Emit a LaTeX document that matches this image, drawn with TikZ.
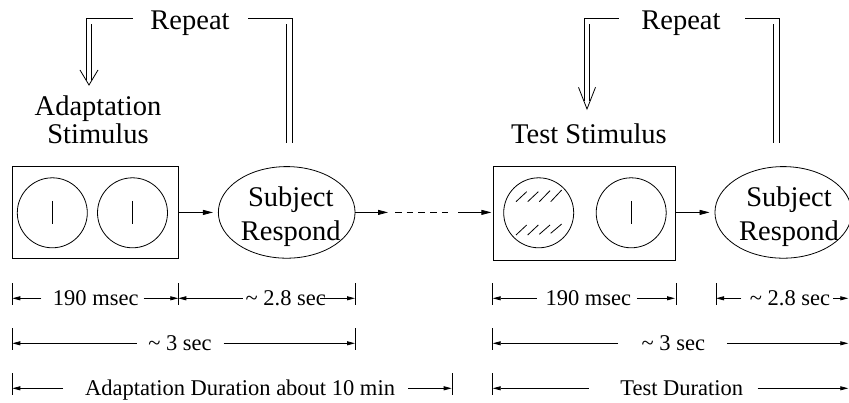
\documentclass[tikz,border=0pt]{standalone}
\usepackage{fontspec}
\setmainfont{Liberation Serif}
\usetikzlibrary{arrows.meta,calc,shapes.geometric}
\begin{document}
\begin{tikzpicture}[x=1pt,y=-1pt,
  every node/.style={inner sep=0pt},
  lw/.style={line width=0.8pt},
  big/.style={font=\fontsize{28.5}{28}\selectfont},
  bigtwo/.style={font=\fontsize{28.5}{33.3}\selectfont, align=center},
  small/.style={font=\fontsize{22.5}{26}\selectfont},
  boxframe/.style={draw, lw, rectangle},
  disc/.style={draw, lw, circle, minimum size=70pt},
  oval/.style={draw, lw, ellipse, minimum width=136.7pt, minimum height=91.6pt},
  conn/.style={lw, -{Triangle[length=10pt,width=5pt]}},
  dbl/.style={line width=0.8pt, double distance=4.9pt},
  dimlab/.style={small, text height=15.2pt, text depth=0pt, anchor=center},
  dimr/.style={lw, -{Triangle[length=8pt,width=4pt]}},
  tickline/.style={lw}
]
\useasboundingbox (0,0) rectangle (849,403);

% ---------- adaptation stimulus ----------
\node[boxframe, minimum width=166pt, minimum height=91.6pt] (box1) at (95.2,212.5) {};
\node[disc] (c1) at (52.3,212.8) {};
\node[disc] (c2) at (132.5,212.8) {};
\draw[lw] ($(c1.center)+(0,-12)$) -- ($(c1.center)+(0,11.3)$);
\draw[lw] ($(c2.center)+(0,-12)$) -- ($(c2.center)+(0,11.3)$);

\node[oval] (resp1) at (286.7,212.4) {};
\node[bigtwo] (resp1t) at (290.8,216.5) {Subject\\Respond};

% ---------- test stimulus ----------
\node[boxframe, minimum width=182.4pt, minimum height=94pt] (box2) at (584.5,213.7) {};
\node[disc] (hc) at (538.7,212.8) {};
\node[disc] (c4) at (631.2,212.8) {};
\draw[lw] ($(c4.center)+(0,-12)$) -- ($(c4.center)+(0,11.3)$);
% hatch
\draw[lw] (516,201.7) -- (526.7,191.7);
\draw[lw] (527.7,201.7) -- (538.3,191.7);
\draw[lw] (539.3,201.7) -- (550,190.7);
\draw[lw] (550.7,201.7) -- (561.7,190);
\draw[lw] (516,235) -- (526.7,225);
\draw[lw] (527.7,235) -- (538.3,225);
\draw[lw] (539.3,234.3) -- (550,225);
\draw[lw] (550.7,233.3) -- (561.7,224);

\node[oval] (resp2) at (783.3,212.4) {};
\node[bigtwo] (resp2t) at (789,216.5) {Subject\\Respond};

% ---------- main flow ----------
\coordinate (d1) at (388,212.4);
\coordinate (d2) at (458,212.4);
\draw[conn, shorten >=5pt] (box1.east) -- (resp1.west);
\draw[conn] (resp1.east) -- (d1);
\draw[lw, dash pattern=on 6.7pt off 5pt, shorten <=7pt, shorten >=9.7pt] (d1) -- (d2);
\draw[conn, shorten >=1.5pt] (d2) -- (d2 -| box2.west);
\draw[conn, shorten >=5pt] (resp2.west -| box2.east) -- (resp2.west);

% ---------- labels above ----------
\node[big, text height=19pt, text depth=1.4pt] (rep1) at (190,21.2) {Repeat};
\node[big, text height=19pt, text depth=1.4pt] (rep2) at (680.9,21.2) {Repeat};
\node[big, align=center] (adapt) at (98,119.3) {Adaptation\\Stimulus};
\node[big, anchor=base] (test) at (589,143.3) {Test Stimulus};

% ---------- repeat loops ----------
\coordinate (a1) at (89,80.2);
\draw[dbl, shorten <=17.7pt] (rep1.west) -| (a1);
\draw[lw] ($(a1)+(-9,-10.2)$) -- ($(a1)+(0,4.8)$) -- ($(a1)+(9,-10.2)$);
\draw[dbl, shorten <=18.7pt, shorten >=23.4pt] (rep1.east) -| ([xshift=3pt]resp1.north);

\coordinate (a2) at (587,101.5);
\draw[dbl, shorten <=22.3pt] (rep2.west) -| (a2);
\draw[lw] ($(a2)+(-8.5,-14.2)$) -- ($(a2)+(0,7.5)$) -- ($(a2)+(8.5,-14.2)$);
\draw[dbl, shorten <=24.6pt, shorten >=23.4pt] (rep2.east) -| ([xshift=-7pt]resp2.north);

% ---------- timing ----------
\coordinate (tL0a) at (12.3,298.3);
\coordinate (tL1a) at (178.3,298.3);
\coordinate (tL2a) at (355,298.3);
\coordinate (tL0b) at (12.3,343.3);
\coordinate (tL2b) at (355,343.3);
\coordinate (tL0c) at (12.3,388.3);
\coordinate (tL3c) at (452.7,388.3);
\coordinate (tR0a) at (492.7,298.3);
\coordinate (tR1a) at (676.7,298.3);
\coordinate (tR2a) at (716,298.3);
\coordinate (tR0b) at (492.7,343.3);
\coordinate (tR0c) at (492.7,388.3);
\coordinate (eA) at (848.3,298.3);
\coordinate (eB) at (848.3,343.3);
\coordinate (eC) at (848.3,388.3);
\foreach \t in {tL0a,tL1a,tL2a,tL0b,tL2b,tL0c,tL3c,tR0a,tR1a,tR2a,tR0b,tR0c}
  \draw[tickline] (\t) ++(0,-15) -- ++(0,21.7);

\node[dimlab] (m1) at (95.8,298.3) {190 msec};
\draw[dimr, shorten <=11.3pt] (m1.west) -- (tL0a);
\draw[dimr, shorten <=4.7pt] (m1.east) -- (tL1a);
\node[dimlab] (s1) at (285.8,298.3) {\textasciitilde{} 2.8 sec};
\draw[dimr, shorten <=2.7pt] (s1.west) -- (tL1a);
\draw[dimr, shorten <=-6pt] (s1.east) -- (tL2a);

\node[dimlab] (t1) at (180,343.3) {\textasciitilde{} 3 sec};
\draw[dimr, shorten <=11.6pt] (t1.west) -- (tL0b);
\draw[dimr, shorten <=11.6pt] (t1.east) -- (tL2b);

\node[dimlab] (ad) at (240,388.3) {Adaptation Duration about 10 min};
\draw[dimr, shorten <=21.7pt] (ad.west) -- (tL0c);
\draw[dimr, shorten <=13.3pt, shorten >=1pt] (ad.east) -- (tL3c);

\node[dimlab] (m2) at (588.3,298.3) {190 msec};
\draw[dimr, shorten <=8.8pt] (m2.west) -- (tR0a);
\draw[dimr, shorten <=5.6pt, shorten >=1.7pt] (m2.east) -- (tR1a);
\node[dimlab] (s2) at (790,298.3) {\textasciitilde{} 2.8 sec};
\draw[dimr, shorten <=8.2pt] (s2.west) -- (tR2a);
\draw[dimr, shorten <=2.9pt] (s2.east) -- (eA);

\node[dimlab] (t2) at (673.3,343.3) {\textasciitilde{} 3 sec};
\draw[dimr, shorten <=23.3pt] (t2.west) -- (tR0b);
\draw[dimr, shorten <=21.7pt] (t2.east) -- (eB);

\node[dimlab] (td) at (681.7,388.3) {Test Duration};
\draw[dimr, shorten <=31.2pt] (td.west) -- (tR0c);
\draw[dimr, shorten <=14.4pt] (td.east) -- (eC);
\end{tikzpicture}
\end{document}
